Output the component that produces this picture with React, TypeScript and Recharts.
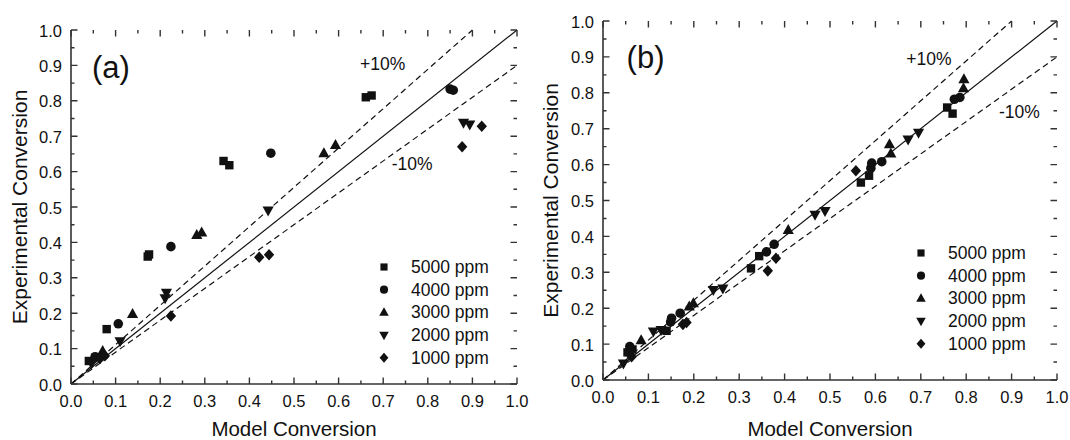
import React from 'react';
import {
  ScatterChart,
  Scatter,
  XAxis,
  YAxis,
  ReferenceLine,
  ReferenceDot,
  Legend
} from 'recharts';

const TICKS = [0, 0.05, 0.1, 0.15, 0.2, 0.25, 0.3, 0.35, 0.4, 0.45, 0.5, 0.55, 0.6, 0.65, 0.7, 0.75, 0.8, 0.85, 0.9, 0.95, 1.0];
const SERIES_NAMES = ['5000 ppm', '4000 ppm', '3000 ppm', '2000 ppm', '1000 ppm'];
const MARKERS = ['square', 'circle', 'triangle', 'down', 'diamond'];

// panel (a)
const a5000 = [
  { x: 0.04, y: 0.065 }, { x: 0.08, y: 0.155 }, { x: 0.172, y: 0.36 }, { x: 0.175, y: 0.366 },
  { x: 0.342, y: 0.63 }, { x: 0.355, y: 0.618 }, { x: 0.661, y: 0.81 }, { x: 0.674, y: 0.815 }
];
const a4000 = [
  { x: 0.054, y: 0.077 }, { x: 0.106, y: 0.17 }, { x: 0.224, y: 0.388 }, { x: 0.448, y: 0.652 },
  { x: 0.85, y: 0.833 }, { x: 0.857, y: 0.83 }
];
const a3000 = [
  { x: 0.071, y: 0.093 }, { x: 0.138, y: 0.198 }, { x: 0.282, y: 0.421 }, { x: 0.293, y: 0.428 },
  { x: 0.567, y: 0.652 }, { x: 0.593, y: 0.675 }
];
const a2000 = [
  { x: 0.046, y: 0.058 }, { x: 0.11, y: 0.121 }, { x: 0.211, y: 0.242 }, { x: 0.214, y: 0.258 },
  { x: 0.442, y: 0.49 }, { x: 0.88, y: 0.738 }, { x: 0.894, y: 0.733 }
];
const a1000 = [
  { x: 0.065, y: 0.072 }, { x: 0.076, y: 0.08 }, { x: 0.224, y: 0.192 }, { x: 0.422, y: 0.358 },
  { x: 0.444, y: 0.365 }, { x: 0.877, y: 0.67 }, { x: 0.921, y: 0.728 }
];

// panel (b)
const b5000 = [
  { x: 0.054, y: 0.077 }, { x: 0.065, y: 0.085 }, { x: 0.14, y: 0.137 }, { x: 0.326, y: 0.311 },
  { x: 0.344, y: 0.345 }, { x: 0.568, y: 0.55 }, { x: 0.586, y: 0.569 }, { x: 0.758, y: 0.759 },
  { x: 0.77, y: 0.742 }
];
const b4000 = [
  { x: 0.059, y: 0.093 }, { x: 0.149, y: 0.162 }, { x: 0.151, y: 0.172 }, { x: 0.17, y: 0.186 },
  { x: 0.36, y: 0.357 }, { x: 0.377, y: 0.378 }, { x: 0.59, y: 0.59 }, { x: 0.592, y: 0.604 },
  { x: 0.614, y: 0.608 }, { x: 0.774, y: 0.782 }, { x: 0.786, y: 0.787 }
];
const b3000 = [
  { x: 0.084, y: 0.111 }, { x: 0.19, y: 0.205 }, { x: 0.199, y: 0.214 }, { x: 0.408, y: 0.418 },
  { x: 0.631, y: 0.657 }, { x: 0.634, y: 0.631 }, { x: 0.794, y: 0.813 }, { x: 0.795, y: 0.838 }
];
const b2000 = [
  { x: 0.045, y: 0.046 }, { x: 0.111, y: 0.135 }, { x: 0.128, y: 0.139 }, { x: 0.243, y: 0.251 },
  { x: 0.264, y: 0.255 }, { x: 0.467, y: 0.46 }, { x: 0.489, y: 0.471 }, { x: 0.672, y: 0.67 },
  { x: 0.695, y: 0.689 }
];
const b1000 = [
  { x: 0.063, y: 0.065 }, { x: 0.176, y: 0.155 }, { x: 0.184, y: 0.16 }, { x: 0.363, y: 0.304 },
  { x: 0.381, y: 0.339 }, { x: 0.557, y: 0.583 }
];

// guide lines: y = x, +10%, -10%
const PARITY = [{ x: 0, y: 0 }, { x: 1, y: 1 }];
const PLUS10 = [{ x: 0, y: 0 }, { x: 0.9, y: 1 }];
const MINUS10 = [{ x: 0, y: 0 }, { x: 1, y: 0.9 }];

const FONT = '"Liberation Sans", Arial, Helvetica, sans-serif';
const AXIS = '#333';
const INK = '#111';

function Marker({ kind, cx, cy, s = 1 }: { kind: string; cx: number; cy: number; s?: number }) {
  if (cx == null || cy == null) return null;
  if (kind === 'square') return <rect x={cx - 4.2 * s} y={cy - 4.2 * s} width={8.4 * s} height={8.4 * s} fill={INK} />;
  if (kind === 'circle') return <circle cx={cx} cy={cy} r={4.8 * s} fill={INK} />;
  if (kind === 'triangle')
    return <polygon points={`${cx},${cy - 6 * s} ${cx + 5.6 * s},${cy + 4 * s} ${cx - 5.6 * s},${cy + 4 * s}`} fill={INK} />;
  if (kind === 'down')
    return <polygon points={`${cx},${cy + 6 * s} ${cx + 5.6 * s},${cy - 4 * s} ${cx - 5.6 * s},${cy - 4 * s}`} fill={INK} />;
  return <polygon points={`${cx},${cy - 5.8 * s} ${cx + 5.2 * s},${cy} ${cx},${cy + 5.8 * s} ${cx - 5.2 * s},${cy}`} fill={INK} />;
}

// inward ticks (major every 0.1, minor every 0.05); each tick also draws its mirror on the opposite frame edge
function makeTick(side: 'bottom' | 'left', opposite: number) {
  return (props: any) => {
    const x = Number(props.x);
    const y = Number(props.y);
    const v = Number(props.payload.value);
    const major = Math.abs(v * 10 - Math.round(v * 10)) < 1e-6;
    const len = major ? 6.5 : 3.5;
    const d =
      side === 'bottom'
        ? `M${x},${y}V${y - len}M${x},${opposite}V${opposite + len}`
        : `M${x},${y}H${x + len}M${opposite},${y}H${opposite - len}`;
    const label = !major ? null : side === 'bottom' ? (
      <text x={x} y={y + 23} textAnchor="middle" fontSize={16.5} fill={INK} fontFamily={FONT}>{v.toFixed(1)}</text>
    ) : (
      <text x={x - 9} y={y + 6.5} textAnchor="end" fontSize={16.5} fill={INK} fontFamily={FONT}>{v.toFixed(1)}</text>
    );
    return (
      <g>
        <path d={d} stroke={AXIS} strokeWidth={1.4} fill="none" />
        {label}
      </g>
    );
  };
}

function annot(text: string, size: number) {
  return (p: any) => (
    <text x={p.viewBox.x} y={p.viewBox.y} fontSize={size} fill={INK} fontFamily={FONT}>{text}</text>
  );
}

function LegendBox() {
  return (
    <svg width={140} height={118}>
      {SERIES_NAMES.map((name, i) => (
        <g key={name}>
          <Marker kind={MARKERS[i]} cx={9} cy={11 + i * 22.7} s={0.85} />
          <text x={36} y={17 + i * 22.7} fontSize={17.5} fill={INK} fontFamily={FONT}>{name}</text>
        </g>
      ))}
    </svg>
  );
}

interface PanelProps {
  series: { x: number; y: number }[][];
  width: number;
  margin: { top: number; right: number; bottom: number; left: number };
  yAxisWidth: number;
  xAxisHeight: number;
  yTitleX: number;
  xTitleBase: number;
  tag: string;
  tagPos: { x: number; y: number };
  plusPos: { x: number; y: number };
  minusPos: { x: number; y: number };
  legendPos: { left: number; top: number };
}

function Panel(p: PanelProps) {
  const plotTop = p.margin.top;
  const plotRight = p.width - p.margin.right;
  return (
    <ScatterChart width={p.width} height={440} margin={p.margin}>
      <XAxis
        type="number"
        dataKey="x"
        domain={[0, 1]}
        ticks={TICKS}
        interval={0}
        height={p.xAxisHeight}
        tickSize={0}
        tickMargin={0}
        tickLine={false}
        axisLine={{ stroke: AXIS, strokeWidth: 1.6 }}
        tick={makeTick('bottom', plotTop)}
        allowDataOverflow
        label={{
          content: (lp: any) => (
            <text
              x={lp.viewBox.x + lp.viewBox.width / 2}
              y={p.xTitleBase}
              textAnchor="middle"
              fontSize={20.5}
              fill={INK}
              fontFamily={FONT}
            >
              Model Conversion
            </text>
          )
        }}
      />
      <XAxis
        xAxisId="top"
        orientation="top"
        type="number"
        domain={[0, 1]}
        height={0}
        tick={false}
        tickLine={false}
        axisLine={{ stroke: AXIS, strokeWidth: 1.6 }}
        allowDataOverflow
      />
      <YAxis
        type="number"
        dataKey="y"
        domain={[0, 1]}
        ticks={TICKS}
        interval={0}
        width={p.yAxisWidth}
        tickSize={0}
        tickMargin={0}
        tickLine={false}
        axisLine={{ stroke: AXIS, strokeWidth: 1.6 }}
        tick={makeTick('left', plotRight)}
        allowDataOverflow
        label={{
          content: (lp: any) => {
            const cy = lp.viewBox.y + lp.viewBox.height / 2;
            return (
              <text
                x={p.yTitleX}
                y={cy}
                transform={`rotate(-90, ${p.yTitleX}, ${cy})`}
                textAnchor="middle"
                fontSize={21}
                fill={INK}
                fontFamily={FONT}
              >
                Experimental Conversion
              </text>
            );
          }
        }}
      />
      <YAxis
        yAxisId="right"
        orientation="right"
        type="number"
        domain={[0, 1]}
        width={0}
        tick={false}
        tickLine={false}
        axisLine={{ stroke: AXIS, strokeWidth: 1.6 }}
        allowDataOverflow
      />
      <ReferenceLine segment={PARITY} stroke={INK} strokeWidth={1.2} />
      <ReferenceLine segment={PLUS10} stroke={INK} strokeWidth={1.2} strokeDasharray="6 4" />
      <ReferenceLine segment={MINUS10} stroke={INK} strokeWidth={1.2} strokeDasharray="6 4" />
      <ReferenceDot x={p.tagPos.x} y={p.tagPos.y} r={0} fill="none" stroke="none" label={{ content: annot(p.tag, 31) }} />
      <ReferenceDot x={p.plusPos.x} y={p.plusPos.y} r={0} fill="none" stroke="none" label={{ content: annot('+10%', 17.5) }} />
      <ReferenceDot x={p.minusPos.x} y={p.minusPos.y} r={0} fill="none" stroke="none" label={{ content: annot('-10%', 17.5) }} />
      {p.series.map((data, i) => (
        <Scatter
          key={SERIES_NAMES[i]}
          name={SERIES_NAMES[i]}
          data={data}
          isAnimationActive={false}
          shape={(sp: any) => <Marker kind={MARKERS[i]} cx={sp.cx} cy={sp.cy} />}
        />
      ))}
      <Legend
        layout="vertical"
        align="center"
        verticalAlign="middle"
        wrapperStyle={{ left: p.legendPos.left, top: p.legendPos.top, width: 140, height: 118 }}
        content={() => <LegendBox />}
      />
    </ScatterChart>
  );
}

export default function App() {
  return (
    <div style={{ position: 'absolute', left: 0, top: 0, width: 1070, height: 440, background: '#fff', overflow: 'hidden' }}>
      <div style={{ position: 'absolute', left: 0, top: 0 }}>
        <Panel
          series={[a5000, a4000, a3000, a2000, a1000]}
          width={540}
          margin={{ top: 30, right: 23, bottom: 0, left: 0 }}
          yAxisWidth={71}
          xAxisHeight={56}
          yTitleX={27}
          xTitleBase={436}
          tag="(a)"
          tagPos={{ x: 0.047, y: 0.864 }}
          plusPos={{ x: 0.648, y: 0.887 }}
          minusPos={{ x: 0.719, y: 0.605 }}
          legendPos={{ left: 375, top: 256 }}
        />
      </div>
      <div style={{ position: 'absolute', left: 540, top: 0 }}>
        <Panel
          series={[b5000, b4000, b3000, b2000, b1000]}
          width={530}
          margin={{ top: 21, right: 13, bottom: 0, left: 0 }}
          yAxisWidth={63}
          xAxisHeight={60}
          yTitleX={17.5}
          xTitleBase={436}
          tag="(b)"
          tagPos={{ x: 0.052, y: 0.869 }}
          plusPos={{ x: 0.668, y: 0.877 }}
          minusPos={{ x: 0.872, y: 0.73 }}
          legendPos={{ left: 372, top: 242 }}
        />
      </div>
    </div>
  );
}
